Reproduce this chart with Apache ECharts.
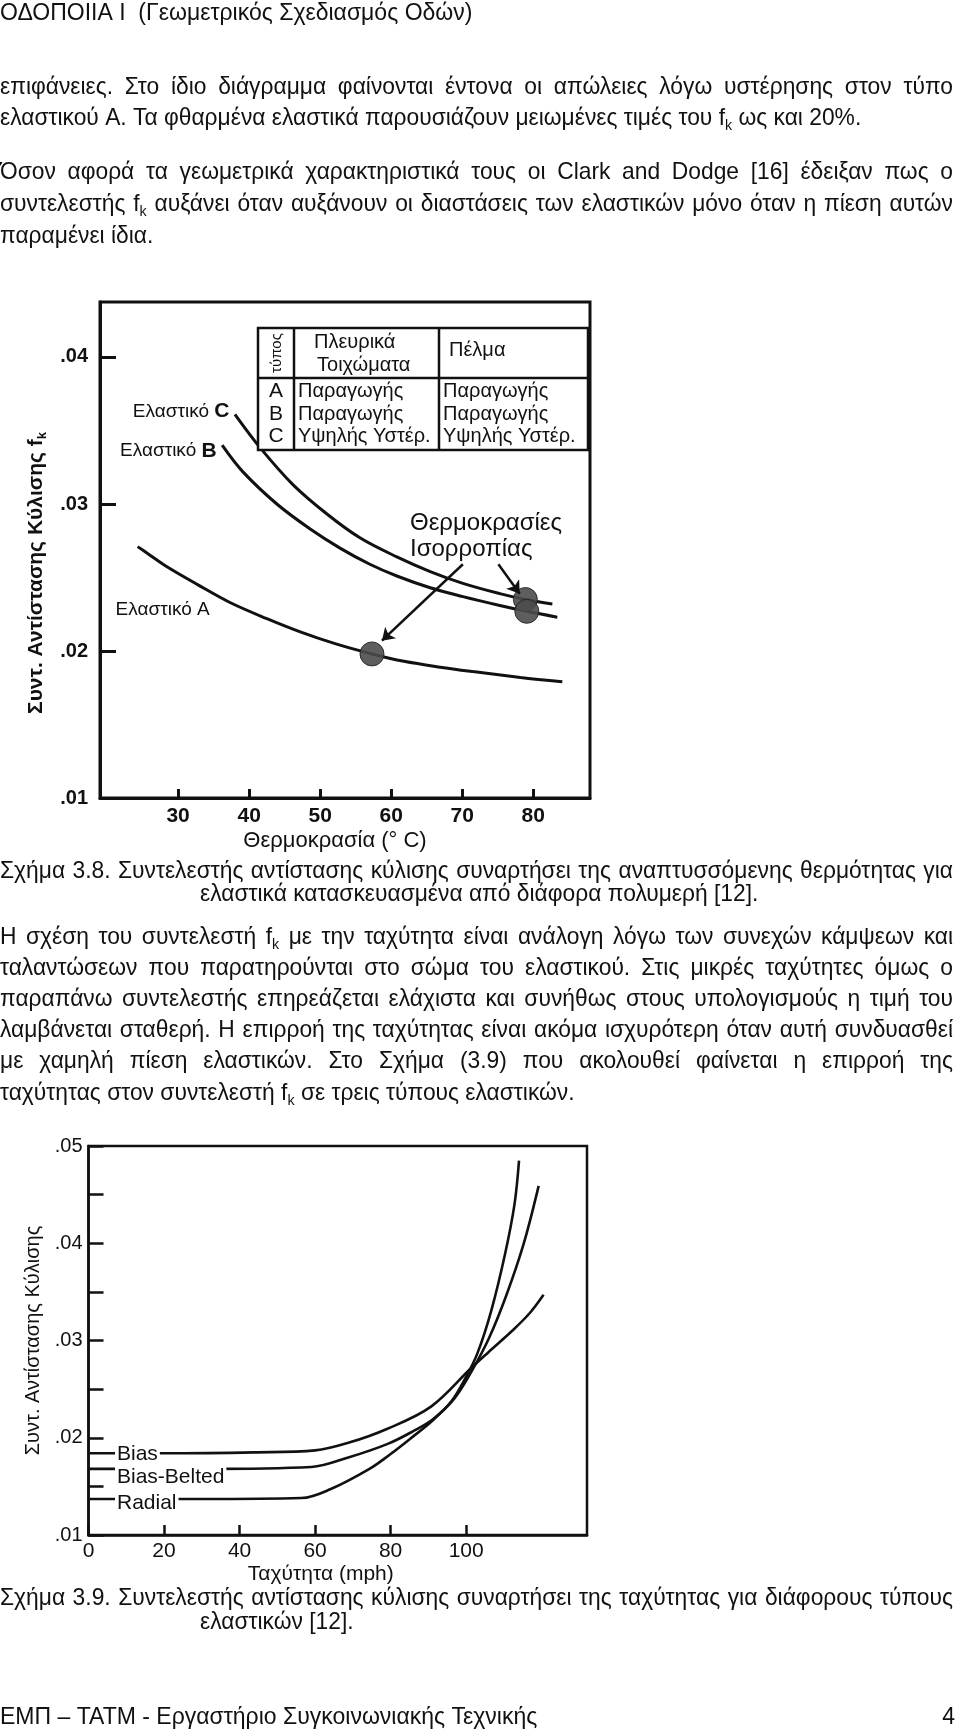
<!DOCTYPE html>
<html><head><meta charset="utf-8">
<script src="https://cdn.jsdelivr.net/npm/echarts@6/dist/echarts.min.js"></script>
<style>html,body{margin:0;padding:0;background:#fff}#c{width:960px;height:1735px}</style>
</head><body><div id="c"></div><script>
// ---------- DATA ----------
// Figure 3.8: temperature (°C) vs rolling resistance coefficient
const tempTicks = [30, 40, 50, 60, 70, 80];
const tireA = [[24.3,0.0271],[25.8,0.0266],[28.2,0.0258],[32.8,0.0245],[37.3,0.0233],[42.5,0.0222],[47.2,0.0213],[52.1,0.0205],[57.3,0.0198],[61.8,0.0193],[66.9,0.0189],[71.5,0.0186],[78.2,0.0182],[84.1,0.0179]];
const tireB = [[36.2,0.0340],[39.1,0.0322],[43.9,0.0300],[48.6,0.0283],[52.8,0.0270],[57.0,0.0259],[60.8,0.0251],[65.5,0.0243],[70.1,0.0237],[75.3,0.0231],[79.1,0.0227],[83.4,0.0223]];
const tireC = [[38.0,0.0361],[41.6,0.0338],[46.2,0.0313],[51.0,0.0293],[55.6,0.0277],[60.8,0.0264],[65.5,0.0254],[70.1,0.0246],[75.3,0.0239],[78.9,0.0235],[82.7,0.0232]];
const equilibriumDots = [[57.3,0.0198],[78.9,0.0235],[79.1,0.0227]];
const equilibriumArrows = [[[70.1,0.0259],[58.7,0.0207]],[[75.1,0.0259],[78.1,0.0239]]];
const fig8Labels = ['Ελαστικό A','Ελαστικό B','Ελαστικό C'];
// Figure 3.9: speed (mph) vs rolling resistance coefficient
const speedTicks = [0, 20, 40, 60, 80, 100];
const speedBias = [[0,0.0184],[20,0.0184],[44,0.0185],[60,0.0187],[69,0.0195],[79,0.0209],[90.7,0.0232],[101.4,0.0272],[105.9,0.0288],[112.2,0.0310],[116.8,0.0328],[120.5,0.0347]];
const speedBiasBelted = [[0,0.0168],[30,0.0168],[59,0.0170],[69,0.0180],[79.4,0.0194],[86.1,0.0207],[91.2,0.0219],[96.8,0.0240],[101.4,0.0268],[106,0.0302],[110.6,0.0346],[115.2,0.0399],[119.2,0.0459]];
const speedRadial = [[0,0.0137],[30,0.0137],[56.4,0.0138],[64,0.0147],[74.4,0.0168],[79.9,0.0183],[85.2,0.0199],[91.2,0.0218],[96.2,0.0238],[99.9,0.0262],[103,0.0287],[106.6,0.0330],[110.3,0.0389],[112.8,0.0440],[114,0.0485]];
const fig9Labels = ['Bias','Bias-Belted','Radial'];
// Table of figure 3.8
const tableHead = ['τύπος','Πλευρικά','Τοιχώματα','Πέλμα'];
const tableTypes = ['A','B','C'];
const tableSide = ['Παραγωγής','Παραγωγής','Υψηλής Υστέρ.'];
const tableTread = ['Παραγωγής','Παραγωγής','Υψηλής Υστέρ.'];
const eqText = ['Θερμοκρασίες','Ισορροπίας'];
// Page text
const headerText = 'ΟΔΟΠΟΙΙΑ Ι  (Γεωμετρικός Σχεδιασμός Οδών)';
const para1 = ['επιφάνειες. Στο ίδιο διάγραμμα φαίνονται έντονα οι απώλειες λόγω υστέρησης στον τύπο',
  'ελαστικού Α. Τα φθαρμένα ελαστικά παρουσιάζουν μειωμένες τιμές του f_k ως και 20%.'];
const para2 = ['Όσον αφορά τα γεωμετρικά χαρακτηριστικά τους οι Clark and Dodge [16] έδειξαν πως ο',
  'συντελεστής f_k αυξάνει όταν αυξάνουν οι διαστάσεις των ελαστικών μόνο όταν η πίεση αυτών',
  'παραμένει ίδια.'];
const caption8 = ['Σχήμα 3.8. Συντελεστής αντίστασης κύλισης συναρτήσει της αναπτυσσόμενης θερμότητας για',
  'ελαστικά κατασκευασμένα από διάφορα πολυμερή [12].'];
const para3 = ['Η σχέση του συντελεστή f_k με την ταχύτητα είναι ανάλογη λόγω των συνεχών κάμψεων και',
  'ταλαντώσεων που παρατηρούνται στο σώμα του ελαστικού. Στις μικρές ταχύτητες όμως ο',
  'παραπάνω συντελεστής επηρεάζεται ελάχιστα και συνήθως στους υπολογισμούς η τιμή του',
  'λαμβάνεται σταθερή. Η επιρροή της ταχύτητας είναι ακόμα ισχυρότερη όταν αυτή συνδυασθεί',
  'με χαμηλή πίεση ελαστικών. Στο Σχήμα (3.9) που ακολουθεί φαίνεται η επιρροή της',
  'ταχύτητας στον συντελεστή f_k σε τρεις τύπους ελαστικών.'];
const caption9 = ['Σχήμα 3.9. Συντελεστής αντίστασης κύλισης συναρτήσει της ταχύτητας για διάφορους τύπους',
  'ελαστικών [12].'];
const footerText = 'ΕΜΠ – ΤΑΤΜ - Εργαστήριο Συγκοινωνιακής Τεχνικής';
const pageNo = '4';

// ---------- LAYOUT ----------
const FAM = '"Liberation Sans", Helvetica, Arial, sans-serif';
const PAGE_RIGHT = 953;
const bodyFont = '24px ' + FAM;
const bigFont = '23px ' + FAM;
const subFont = '15px ' + FAM;
const BODY_SX = 0.95;
const cv = document.createElement('canvas').getContext('2d');
function tw(t, f) { cv.font = f; return cv.measureText(t).width; }
function pieces(word, font) {
  const out = [];
  const parts = word.split('f_k');
  parts.forEach((p, i) => {
    if (p) out.push({t: p, f: font, dy: 0});
    if (i < parts.length - 1) { out.push({t: 'f', f: font, dy: 0}); out.push({t: 'k', f: subFont, dy: 8}); }
  });
  return out;
}
function emit(out, segs, x, y, sx) {
  segs.forEach(g => {
    out.push({type: 'text', x: x, y: y + g.dy, scaleX: sx, silent: true,
      style: {text: g.t, font: g.f, fill: '#111', align: 'left', verticalAlign: 'middle'}});
    x += tw(g.t, g.f) * sx;
  });
  return x;
}
function lineElems(text, x0, y, justify, font, sx) {
  const out = [];
  if (!justify) { emit(out, pieces(text, font), x0, y, sx); return out; }
  const words = text.split(' ');
  const segsList = words.map(w => pieces(w, font));
  const widths = segsList.map(ss => ss.reduce((s, g) => s + tw(g.t, g.f) * sx, 0));
  const gap = (PAGE_RIGHT - x0 - widths.reduce((a, b) => a + b, 0)) / (words.length - 1);
  let x = x0;
  segsList.forEach((ss, i) => { emit(out, ss, x, y, sx); x += widths[i] + gap; });
  return out;
}
const textGraphics = [];
function addBlock(lines, ys, xs, font, sx) {
  lines.forEach((t, i) => textGraphics.push(...lineElems(t, xs[i], ys[i], i < lines.length - 1, font || bodyFont, sx || BODY_SX)));
}
addBlock([headerText], [14], [0], bigFont, 1);
addBlock(para1, [87, 118], [0, 0]);
addBlock(para2, [172, 204, 236], [0, 0, 0]);
addBlock(caption8, [871, 894], [0, 200]);
addBlock(para3, [937, 968, 999, 1030, 1061, 1093], [0, 0, 0, 0, 0, 0]);
addBlock(caption9, [1598, 1622], [0, 200]);
addBlock([footerText], [1718], [0], bigFont, 1);
textGraphics.push({type: 'text', x: 955, y: 1718, silent: true,
  style: {text: pageNo, font: bigFont, fill: '#111', align: 'right', verticalAlign: 'middle'}});

// Table graphics (figure 3.8)
const T = {l: 258, r: 588, t: 328, h: 378, b: 450, c1: 294, c2: 439};
const stroke = {stroke: '#111', lineWidth: 2.5};
const cellFont = '20px ' + FAM;
const tableGraphics = [
  {type: 'rect', shape: {x: T.l, y: T.t, width: T.r - T.l, height: T.b - T.t}, style: Object.assign({fill: '#fff'}, stroke), z: 10},
  {type: 'line', shape: {x1: T.l, y1: T.h, x2: T.r, y2: T.h}, style: stroke, z: 11},
  {type: 'line', shape: {x1: T.c1, y1: T.t, x2: T.c1, y2: T.b}, style: stroke, z: 11},
  {type: 'line', shape: {x1: T.c2, y1: T.t, x2: T.c2, y2: T.b}, style: stroke, z: 11},
  {type: 'text', x: 277, y: 353, rotation: Math.PI / 2, z: 12,
    style: {text: tableHead[0], font: '15px ' + FAM, fill: '#111', align: 'center', verticalAlign: 'middle'}},
  {type: 'text', x: 314, y: 342, z: 12, style: {text: tableHead[1], font: cellFont, fill: '#111', verticalAlign: 'middle'}},
  {type: 'text', x: 317, y: 365, z: 12, style: {text: tableHead[2], font: cellFont, fill: '#111', verticalAlign: 'middle'}},
  {type: 'text', x: 449, y: 350, z: 12, style: {text: tableHead[3], font: cellFont, fill: '#111', verticalAlign: 'middle'}}
];
const rowY = [391, 414, 436];
tableTypes.forEach((t, i) => {
  tableGraphics.push({type: 'text', x: 276, y: rowY[i], z: 12, style: {text: t, font: '21px ' + FAM, fill: '#111', align: 'center', verticalAlign: 'middle'}});
  tableGraphics.push({type: 'text', x: 298, y: rowY[i], z: 12, style: {text: tableSide[i], font: cellFont, fill: '#111', verticalAlign: 'middle'}});
  tableGraphics.push({type: 'text', x: 443, y: rowY[i], z: 12, style: {text: tableTread[i], font: cellFont, fill: '#111', verticalAlign: 'middle'}});
});
const annotGraphics = [
  {type: 'text', x: 410, y: 523, z: 12, style: {text: eqText[0], font: '24px ' + FAM, fill: '#111', verticalAlign: 'middle'}},
  {type: 'text', x: 410, y: 549, z: 12, style: {text: eqText[1], font: '24px ' + FAM, fill: '#111', verticalAlign: 'middle'}}
];

function fmtDot(v) { return v.toFixed(2).replace(/^0/, ''); }
const lineBase = {type: 'line', smooth: 0.35, showSymbol: false, symbol: 'none',
  lineStyle: {color: '#111', width: 3}, z: 2, silent: true};
function startLabel(series, text, lab) {
  return {z: 10, symbol: 'circle', symbolSize: 1, itemStyle: {color: 'rgba(0,0,0,0)'}, silent: true,
    data: [{coord: series[0], label: Object.assign({show: true, formatter: text, color: '#111', fontFamily: FAM}, lab)}]};
}
const richLab = {n: {fontSize: 19, fontFamily: FAM, color: '#111'}, b: {fontSize: 21, fontWeight: 'bold', fontFamily: FAM, color: '#111'}};
const speedLab = {position: 'right', distance: 26, fontSize: 21, backgroundColor: '#fff', padding: [0, 2]};

const option = {
  backgroundColor: '#fff',
  animation: false,
  textStyle: {fontFamily: FAM},
  grid: [
    {left: 100, top: 302, width: 490, height: 496, show: true, borderColor: '#111', borderWidth: 3, backgroundColor: 'transparent'},
    {left: 88.5, top: 1146, width: 498.5, height: 389, show: true, borderColor: '#111', borderWidth: 2.5, backgroundColor: 'transparent'}
  ],
  xAxis: [
    {gridIndex: 0, type: 'value', min: 19, max: 88,
      axisLine: {lineStyle: {color: '#111', width: 3}},
      axisTick: {inside: true, length: 9, lineStyle: {color: '#111', width: 3}, customValues: tempTicks},
      axisLabel: {customValues: tempTicks, fontWeight: 'bold', fontSize: 21, color: '#111', margin: 8, fontFamily: FAM},
      splitLine: {show: false},
      name: 'Θερμοκρασία (° C)', nameLocation: 'middle', nameGap: 32,
      nameTextStyle: {fontSize: 22, color: '#111', fontFamily: FAM, padding: [0, 20, 0, 0]}},
    {gridIndex: 1, type: 'value', min: 0, max: 132,
      axisLine: {lineStyle: {color: '#111', width: 2.5}},
      axisTick: {inside: true, length: 10, lineStyle: {color: '#111', width: 2.5}, customValues: speedTicks},
      axisLabel: {customValues: speedTicks, fontSize: 21, color: '#111', margin: 6, fontFamily: FAM},
      splitLine: {show: false},
      name: 'Ταχύτητα (mph)', nameLocation: 'middle', nameGap: 29,
      nameTextStyle: {fontSize: 21, color: '#111', fontFamily: FAM, padding: [0, 34, 0, 0]}}
  ],
  yAxis: [
    {gridIndex: 0, type: 'value', min: 0.01, max: 0.04374, interval: 0.01,
      axisLine: {lineStyle: {color: '#111', width: 3}},
      axisTick: {inside: true, length: 16, lineStyle: {color: '#111', width: 3}},
      axisLabel: {formatter: fmtDot, fontWeight: 'bold', fontSize: 20, color: '#111', margin: 12, showMaxLabel: false, fontFamily: FAM},
      splitLine: {show: false},
      name: '{b|Συντ. Αντίστασης Κύλισης f}{s|k}', nameLocation: 'middle', nameGap: 45,
      nameTextStyle: {padding: [0, 46, 0, 0], rich: {
        b: {fontSize: 21, fontWeight: 'bold', fontFamily: FAM, color: '#111', lineHeight: 26, verticalAlign: 'middle'},
        s: {fontSize: 13, fontWeight: 'bold', fontFamily: FAM, color: '#111', lineHeight: 14, verticalAlign: 'bottom'}}}},
    {gridIndex: 1, type: 'value', min: 0.01, max: 0.05, interval: 0.005,
      axisLine: {lineStyle: {color: '#111', width: 2.5}},
      axisTick: {inside: true, length: 15, lineStyle: {color: '#111', width: 2.5}},
      axisLabel: {formatter: function (v) { const r = Math.round(v * 100); return Math.abs(v * 100 - r) < 1e-6 ? fmtDot(r / 100) : ''; },
        fontSize: 20, color: '#111', margin: 6, fontFamily: FAM},
      splitLine: {show: false},
      name: 'Συντ. Αντίστασης Κύλισης', nameLocation: 'middle', nameGap: 39,
      nameTextStyle: {fontSize: 20, color: '#111', fontFamily: FAM}}
  ],
  series: [
    Object.assign({}, lineBase, {name: fig8Labels[0], xAxisIndex: 0, yAxisIndex: 0, data: tireA,
      markPoint: startLabel(tireA, '{n|Ελαστικό A}', {position: 'inside', offset: [25, 63], rich: richLab})}),
    Object.assign({}, lineBase, {name: fig8Labels[1], xAxisIndex: 0, yAxisIndex: 0, data: tireB,
      markPoint: startLabel(tireB, '{n|Ελαστικό }{b|B}', {position: 'left', distance: 5, offset: [0, 6], rich: richLab})}),
    Object.assign({}, lineBase, {name: fig8Labels[2], xAxisIndex: 0, yAxisIndex: 0, data: tireC,
      markPoint: startLabel(tireC, '{n|Ελαστικό }{b|C}', {position: 'left', distance: 5, offset: [0, -3], rich: richLab})}),
    {type: 'scatter', xAxisIndex: 0, yAxisIndex: 0, data: equilibriumDots, symbolSize: 24, z: 6, silent: true,
      itemStyle: {color: '#4d4d4d', borderColor: '#222', borderWidth: 1, opacity: 0.9}},
    {type: 'lines', coordinateSystem: 'cartesian2d', xAxisIndex: 0, yAxisIndex: 0, z: 7, silent: true,
      data: equilibriumArrows.map(a => ({coords: a})), symbol: ['none', 'arrow'], symbolSize: [8, 12],
      lineStyle: {color: '#111', width: 2.5, opacity: 1}},
    Object.assign({}, lineBase, {name: fig9Labels[0], xAxisIndex: 1, yAxisIndex: 1, data: speedBias, lineStyle: {color: '#111', width: 2.6},
      markPoint: startLabel(speedBias, fig9Labels[0], Object.assign({offset: [0, 1]}, speedLab))}),
    Object.assign({}, lineBase, {name: fig9Labels[1], xAxisIndex: 1, yAxisIndex: 1, data: speedBiasBelted, lineStyle: {color: '#111', width: 2.6},
      markPoint: startLabel(speedBiasBelted, fig9Labels[1], Object.assign({offset: [0, 8]}, speedLab))}),
    Object.assign({}, lineBase, {name: fig9Labels[2], xAxisIndex: 1, yAxisIndex: 1, data: speedRadial, lineStyle: {color: '#111', width: 2.6},
      markPoint: startLabel(speedRadial, fig9Labels[2], Object.assign({offset: [0, 4]}, speedLab))})
  ],
  graphic: textGraphics.concat(tableGraphics, annotGraphics)
};
const chart = echarts.init(document.getElementById('c'), null, {renderer: 'canvas', width: 960, height: 1735});
chart.setOption(option);
</script></body></html>
